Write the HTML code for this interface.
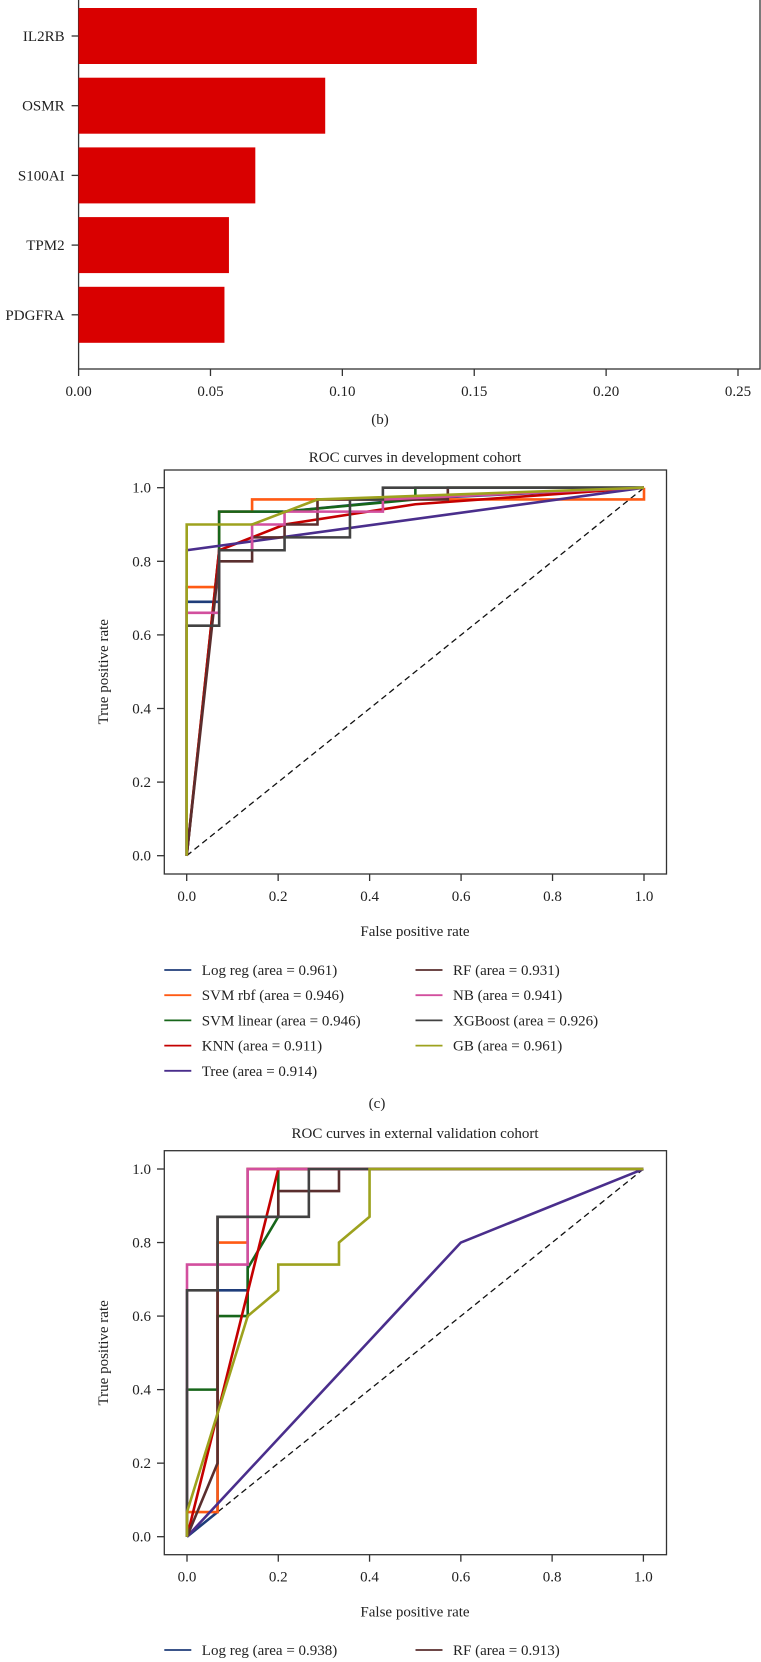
<!DOCTYPE html>
<html><head><meta charset="utf-8"><style>
html,body{margin:0;padding:0;background:#fff;}
svg{display:block;font-family:"Liberation Serif",serif;}
</style></head><body>
<svg id="fig" width="761" height="1662" viewBox="0 0 761 1662" xmlns="http://www.w3.org/2000/svg">
<g id="barchart"></g>
<g id="dev"></g>
<g id="ext"></g>
</svg>
<script>
const genes = ["IL2RB","OSMR","S100AI","TPM2","PDGFRA"];
const importances = [0.151, 0.0935, 0.067, 0.057, 0.0553];
const barTicks = [0.00,0.05,0.10,0.15,0.20,0.25];

const models = ["Log reg","SVM rbf","SVM linear","KNN","Tree","RF","NB","XGBoost","GB"];
const colors = ["#1f3d7a","#ff5a14","#17661a","#c40000","#4a2e8c","#5a2e2e","#d24f9e","#424242","#9da21e"];
const devAuc = ["0.961","0.946","0.946","0.911","0.914","0.931","0.941","0.926","0.961"];
const extAuc = ["0.938","0.913"];
const extAucNames = ["Log reg","RF"];
const rocTicks = [0.0,0.2,0.4,0.6,0.8,1.0];

const devLogReg = [[0,0],[0,0.69],[0.071,0.69],[0.071,0.83],[0.071,0.935],[0.214,0.935],[0.5,0.97],[1,1]];
const devSvmRbf = [[0,0],[0,0.73],[0.071,0.73],[0.071,0.935],[0.143,0.935],[0.143,0.968],[1,0.968],[1,1]];
const devSvmLin = [[0,0],[0.071,0.83],[0.071,0.935],[0.214,0.935],[0.5,0.968],[0.5,1],[1,1]];
const devKnn = [[0,0],[0.071,0.83],[0.143,0.865],[0.214,0.9],[0.5,0.955],[1,1]];
const devTree = [[0,0],[0,0.83],[1,1]];
const devRf = [[0,0],[0.071,0.8],[0.143,0.8],[0.143,0.865],[0.214,0.865],[0.214,0.9],[0.286,0.9],[0.286,0.968],[0.571,0.968],[0.571,1],[1,1]];
const devNb = [[0,0],[0,0.66],[0.071,0.66],[0.071,0.83],[0.143,0.83],[0.143,0.9],[0.214,0.9],[0.214,0.935],[0.429,0.935],[0.429,0.968],[1,1]];
const devXgb = [[0,0],[0,0.625],[0.071,0.625],[0.071,0.83],[0.214,0.83],[0.214,0.865],[0.357,0.865],[0.357,0.968],[0.429,0.968],[0.429,1],[1,1]];
const devGb = [[0,0],[0,0.9],[0.143,0.9],[0.286,0.968],[1,1]];

const extLogReg = [[0,0],[0.067,0.067],[0.067,0.67],[0.133,0.67],[0.133,1],[1,1]];
const extSvmRbf = [[0,0],[0,0.067],[0.067,0.067],[0.067,0.8],[0.133,0.8],[0.133,1],[1,1]];
const extSvmLin = [[0,0],[0,0.4],[0.067,0.4],[0.067,0.6],[0.133,0.6],[0.133,0.73],[0.2,0.87],[0.2,1],[1,1]];
const extKnn = [[0,0],[0.2,1],[1,1]];
const extTree = [[0,0],[0.6,0.8],[1,1]];
const extRf = [[0,0],[0.067,0.2],[0.067,0.87],[0.2,0.87],[0.2,0.94],[0.333,0.94],[0.333,1],[1,1]];
const extNb = [[0,0],[0,0.74],[0.133,0.74],[0.133,1],[0.267,1],[1,1]];
const extXgb = [[0,0],[0,0.67],[0.067,0.67],[0.067,0.87],[0.267,0.87],[0.267,1],[1,1]];
const extGb = [[0,0],[0,0.067],[0.133,0.6],[0.2,0.67],[0.2,0.74],[0.333,0.74],[0.333,0.8],[0.4,0.87],[0.4,1],[1,1]];

const NS="http://www.w3.org/2000/svg";
function mk(tag, attrs, parent){const e=document.createElementNS(NS,tag);for(const k in attrs)e.setAttribute(k,attrs[k]);parent.appendChild(e);return e;}

// ---- bar chart ----
(function(){
  const g=document.getElementById('barchart');
  const x0=78.6, pxPer=(738-78.6)/0.25, axisY=369;
  const X=v=>x0+v*pxPer;
  const bandTop=8, bandStep=69.7, barH=56;
  mk('rect',{x:x0,y:-2,width:760-x0,height:axisY+2,fill:'none',stroke:'#333','stroke-width':1.3},g);
  genes.forEach((name,i)=>{
    const y=bandTop+i*bandStep;
    const r=mk('rect',{x:x0,y:y,width:X(importances[i])-x0,height:barH,fill:'#d90000'},g);
    
    
    mk('line',{x1:x0-7,x2:x0,y1:y+barH/2,y2:y+barH/2,stroke:'#333','stroke-width':1.3},g);
    const t=mk('text',{x:x0-14,y:y+barH/2+5,'text-anchor':'end','font-size':15,fill:'#222'},g);
    t.textContent=name;
    
    
  });
  barTicks.forEach(v=>{
    mk('line',{x1:X(v),x2:X(v),y1:axisY,y2:axisY+7,stroke:'#333','stroke-width':1.3},g);
    const t=mk('text',{x:X(v),y:axisY+27,'text-anchor':'middle','font-size':15,fill:'#222'},g);
    t.textContent=v.toFixed(2);
    
    
  });
  const c=mk('text',{x:380,y:424,'text-anchor':'middle','font-size':15,fill:'#222'},g);
  c.textContent='(b)';
  
  
})();

// ---- ROC charts ----
function roc(gid, cfg, series, legendNames, legendAuc, caption){
  const g=document.getElementById(gid);
  const X=v=>cfg.x0+v*(cfg.x1-cfg.x0);
  const Y=v=>cfg.y0-v*(cfg.y0-cfg.y1);
  const t=mk('text',{x:415,y:cfg.titleY,'text-anchor':'middle','font-size':15,fill:'#222'},g);
  t.textContent=cfg.title;
  
  
  mk('rect',{x:164.3,y:cfg.top,width:666.5-164.3,height:cfg.bottom-cfg.top,fill:'none',stroke:'#333','stroke-width':1.3},g);
  rocTicks.forEach(v=>{
    mk('line',{x1:164.3,x2:157,y1:Y(v),y2:Y(v),stroke:'#333','stroke-width':1.3},g);
    const a=mk('text',{x:151,y:Y(v)+5,'text-anchor':'end','font-size':15,fill:'#222'},g);
    a.textContent=v.toFixed(1);
    
    
    mk('line',{x1:X(v),x2:X(v),y1:cfg.bottom,y2:cfg.bottom+7,stroke:'#333','stroke-width':1.3},g);
    const b=mk('text',{x:X(v),y:cfg.bottom+27,'text-anchor':'middle','font-size':15,fill:'#222'},g);
    b.textContent=v.toFixed(1);
    
    
  });
  const yl=mk('text',{x:0,y:0,'text-anchor':'middle','font-size':15,fill:'#222',transform:`translate(108,${(cfg.y0+cfg.y1)/2}) rotate(-90)`},g);
  yl.textContent='True positive rate';
  
  
  const xl=mk('text',{x:415,y:cfg.bottom+62,'text-anchor':'middle','font-size':15,fill:'#222'},g);
  xl.textContent='False positive rate';
  
  
  const d=mk('line',{x1:X(0),y1:Y(0),x2:X(1),y2:Y(1),stroke:'#111','stroke-width':1.3,'stroke-dasharray':'6,4'},g);
  
  
  series.forEach((pts,i)=>{
    const p=mk('polyline',{points:pts.map(q=>X(q[0])+','+Y(q[1])).join(' '),fill:'none',stroke:colors[i],'stroke-width':2.6,'stroke-linejoin':'miter'},g);
    
    
  });
  legendNames.forEach((n,i)=>{
    const col=i<5?0:1, row=i<5?i:i-5;
    const lx=col?415.5:164.3, ly=cfg.legY+row*25.2;
    const ci=models.indexOf(n);
    mk('line',{x1:lx,x2:lx+27,y1:ly,y2:ly,stroke:colors[ci],'stroke-width':1.8},g);
    const tx=mk('text',{x:lx+37.5,y:ly+5,'font-size':15,fill:'#222'},g);
    tx.textContent=`${n} (area = ${legendAuc[i]})`;
    
    
  });
  if(caption){
    const c=mk('text',{x:377,y:1108,'text-anchor':'middle','font-size':15,fill:'#222'},g);
    c.textContent=caption;
    
    
  }
}
const devOrder=["Log reg","SVM rbf","SVM linear","KNN","Tree","RF","NB","XGBoost","GB"];
roc('dev',{x0:186.7,x1:644,y0:855.7,y1:487.7,top:470,bottom:874,titleY:462,title:'ROC curves in development cohort',legY:970},
  [devLogReg,devSvmRbf,devSvmLin,devKnn,devTree,devRf,devNb,devXgb,devGb], devOrder, devAuc, '(c)');
// external: legend only first row visible (Log reg col 0, RF col 1)
(function(){
  roc('ext',{x0:187,x1:643.4,y0:1536.7,y1:1169,top:1150.7,bottom:1554.7,titleY:1138,title:'ROC curves in external validation cohort',legY:9999},
    [extLogReg,extSvmRbf,extSvmLin,extKnn,extTree,extRf,extNb,extXgb,extGb], [], [], null);
  const g=document.getElementById('ext');
  extAucNames.forEach((n,i)=>{
    const lx=i?415.5:164.3, ly=1650;
    mk('line',{x1:lx,x2:lx+27,y1:ly,y2:ly,stroke:colors[models.indexOf(n)],'stroke-width':1.8},g);
    const tx=mk('text',{x:lx+37.5,y:ly+5,'font-size':15,fill:'#222'},g);
    tx.textContent=`${n} (area = ${extAuc[i]})`;
    
    
  });
})();
</script>
</body></html>
